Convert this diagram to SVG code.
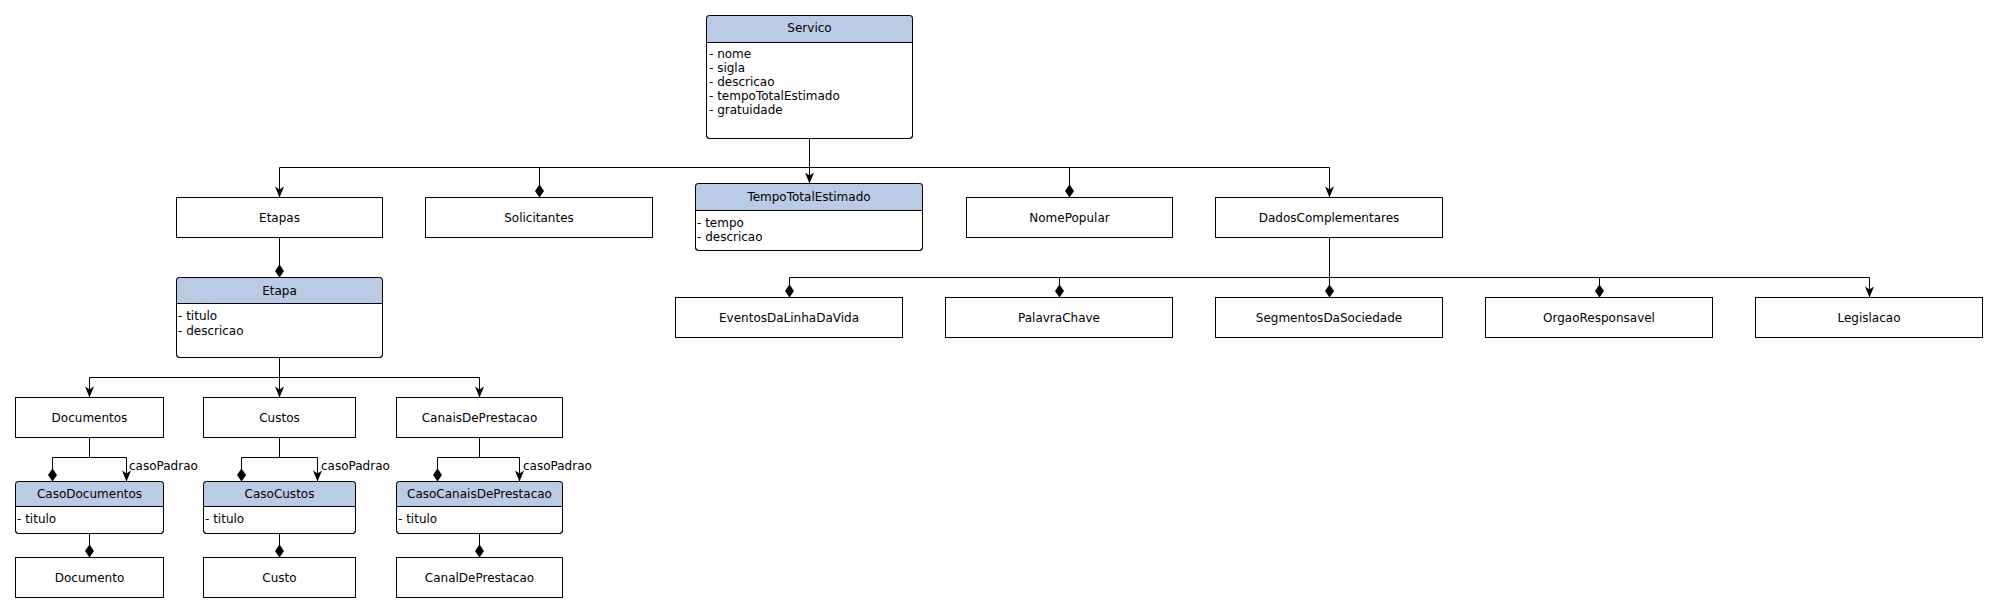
<svg xmlns="http://www.w3.org/2000/svg" width="1998" height="612" viewBox="0 0 1998 612">
<style>
.box{fill:#ffffff;stroke:#000000;stroke-width:1}
.hdr{fill:#b9cbe5;stroke:none}
.sep{stroke:#000000;stroke-width:1;fill:none}
.out{fill:none;stroke:#000000;stroke-width:1}
.t{font-family:"DejaVu Sans","Liberation Sans",sans-serif;font-size:12px;fill:#000000}
.c{text-anchor:middle}
.e{fill:none;stroke:#000000;stroke-width:1}
.a{marker-end:url(#arrow)}
.d{marker-end:url(#diamond)}
</style>
<defs>
<marker id="arrow" markerUnits="userSpaceOnUse" markerWidth="12" markerHeight="10" viewBox="-11 -5 12 10" refX="0" refY="0" orient="auto" overflow="visible">
<path d="M0,0 L-11,-4.5 L-8,0 L-11,4.5 Z" fill="#000000"/>
</marker>
<marker id="diamond" markerUnits="userSpaceOnUse" markerWidth="14" markerHeight="10" viewBox="-13 -5 14 10" refX="0" refY="0" orient="auto" overflow="visible">
<path d="M0,0 L-6.5,-4.5 L-13,0 L-6.5,4.5 Z" fill="#000000"/>
</marker>
</defs>
<rect width="1998" height="612" fill="#ffffff"/>

<g id="connectors">
<path class="e" d="M279.5,167.5 H1329.5"/>
<path class="e a" d="M809.5,138.5 V183.5"/>
<path class="e a" d="M279.5,167.5 V197.5"/>
<path class="e d" d="M539.5,167.5 V197.5"/>
<path class="e d" d="M1069.5,167.5 V197.5"/>
<path class="e a" d="M1329.5,167.5 V197.5"/>
<path class="e d" d="M279.5,237.5 V277.5"/>
<path class="e" d="M1329.5,237.5 V277.5"/>
<path class="e" d="M789.5,277.5 H1869.5"/>
<path class="e d" d="M789.5,277.5 V297.5"/>
<path class="e d" d="M1059.5,277.5 V297.5"/>
<path class="e d" d="M1329.5,277.5 V297.5"/>
<path class="e d" d="M1599.5,277.5 V297.5"/>
<path class="e a" d="M1869.5,277.5 V297.5"/>
<path class="e" d="M279.5,357.5 V377.5"/>
<path class="e" d="M89.5,377.5 H479.5"/>
<path class="e a" d="M89.5,377.5 V397.5"/>
<path class="e a" d="M279.5,377.5 V397.5"/>
<path class="e a" d="M479.5,377.5 V397.5"/>
<path class="e" d="M89.5,437.5 V457.5"/>
<path class="e" d="M52.5,457.5 H126.5"/>
<path class="e d" d="M52.5,457.5 V481.5"/>
<path class="e a" d="M126.5,457.5 V481.5"/>
<text class="t" x="129" y="470">casoPadrao</text>
<path class="e" d="M279.5,437.5 V457.5"/>
<path class="e" d="M241.5,457.5 H317.5"/>
<path class="e d" d="M241.5,457.5 V481.5"/>
<path class="e a" d="M317.5,457.5 V481.5"/>
<text class="t" x="321" y="470">casoPadrao</text>
<path class="e" d="M479.5,437.5 V457.5"/>
<path class="e" d="M437.5,457.5 H519.5"/>
<path class="e d" d="M437.5,457.5 V481.5"/>
<path class="e a" d="M519.5,457.5 V481.5"/>
<text class="t" x="523" y="470">casoPadrao</text>
<path class="e d" d="M89.5,533.5 V557.5"/>
<path class="e d" d="M279.5,533.5 V557.5"/>
<path class="e d" d="M479.5,533.5 V557.5"/>
</g>

<g id="Servico">
<rect class="box" x="706.5" y="15.5" width="206" height="123" rx="3"/>
<path class="hdr" d="M706.5,42.5 V18.5 Q706.5,15.5 709.5,15.5 H909.5 Q912.5,15.5 912.5,18.5 V42.5 Z"/>
<path class="sep" d="M706.5,42.5 H912.5"/>
<rect class="out" x="706.5" y="15.5" width="206" height="123" rx="3"/>
<text class="t c" x="809.5" y="32">Servico</text>
<text class="t" x="709" y="58">- nome</text>
<text class="t" x="709" y="72">- sigla</text>
<text class="t" x="709" y="86">- descricao</text>
<text class="t" x="709" y="100">- tempoTotalEstimado</text>
<text class="t" x="709" y="114">- gratuidade</text>
</g>

<g id="Etapas">
<rect class="box" x="176.5" y="197.5" width="206" height="40"/>
<text class="t c" x="279.5" y="221.5">Etapas</text>
</g>
<g id="Solicitantes">
<rect class="box" x="425.5" y="197.5" width="227" height="40"/>
<text class="t c" x="539" y="221.5">Solicitantes</text>
</g>
<g id="TempoTotalEstimado">
<rect class="box" x="695.5" y="183.5" width="227" height="67" rx="3"/>
<path class="hdr" d="M695.5,210.5 V186.5 Q695.5,183.5 698.5,183.5 H919.5 Q922.5,183.5 922.5,186.5 V210.5 Z"/>
<path class="sep" d="M695.5,210.5 H922.5"/>
<rect class="out" x="695.5" y="183.5" width="227" height="67" rx="3"/>
<text class="t c" x="809" y="201">TempoTotalEstimado</text>
<text class="t" x="697" y="227">- tempo</text>
<text class="t" x="697" y="241">- descricao</text>
</g>
<g id="NomePopular">
<rect class="box" x="966.5" y="197.5" width="206" height="40"/>
<text class="t c" x="1069.5" y="221.5">NomePopular</text>
</g>
<g id="DadosComplementares">
<rect class="box" x="1215.5" y="197.5" width="227" height="40"/>
<text class="t c" x="1329" y="221.5">DadosComplementares</text>
</g>

<g id="Etapa">
<rect class="box" x="176.5" y="277.5" width="206" height="80" rx="3"/>
<path class="hdr" d="M176.5,303.5 V280.5 Q176.5,277.5 179.5,277.5 H379.5 Q382.5,277.5 382.5,280.5 V303.5 Z"/>
<path class="sep" d="M176.5,303.5 H382.5"/>
<rect class="out" x="176.5" y="277.5" width="206" height="80" rx="3"/>
<text class="t c" x="279.5" y="294.5">Etapa</text>
<text class="t" x="178" y="320">- titulo</text>
<text class="t" x="178" y="335">- descricao</text>
</g>

<g id="EventosDaLinhaDaVida">
<rect class="box" x="675.5" y="297.5" width="227" height="40"/>
<text class="t c" x="789" y="321.5">EventosDaLinhaDaVida</text>
</g>
<g id="PalavraChave">
<rect class="box" x="945.5" y="297.5" width="227" height="40"/>
<text class="t c" x="1059" y="321.5">PalavraChave</text>
</g>
<g id="SegmentosDaSociedade">
<rect class="box" x="1215.5" y="297.5" width="227" height="40"/>
<text class="t c" x="1329" y="321.5">SegmentosDaSociedade</text>
</g>
<g id="OrgaoResponsavel">
<rect class="box" x="1485.5" y="297.5" width="227" height="40"/>
<text class="t c" x="1599" y="321.5">OrgaoResponsavel</text>
</g>
<g id="Legislacao">
<rect class="box" x="1755.5" y="297.5" width="227" height="40"/>
<text class="t c" x="1869" y="321.5">Legislacao</text>
</g>

<g id="Documentos">
<rect class="box" x="15.5" y="397.5" width="148" height="40"/>
<text class="t c" x="89.5" y="421.5">Documentos</text>
</g>
<g id="Custos">
<rect class="box" x="203.5" y="397.5" width="152" height="40"/>
<text class="t c" x="279.5" y="421.5">Custos</text>
</g>
<g id="CanaisDePrestacao">
<rect class="box" x="396.5" y="397.5" width="166" height="40"/>
<text class="t c" x="479.5" y="421.5">CanaisDePrestacao</text>
</g>

<g id="CasoDocumentos">
<rect class="box" x="15.5" y="481.5" width="148" height="52" rx="3"/>
<path class="hdr" d="M15.5,506.5 V484.5 Q15.5,481.5 18.5,481.5 H160.5 Q163.5,481.5 163.5,484.5 V506.5 Z"/>
<path class="sep" d="M15.5,506.5 H163.5"/>
<rect class="out" x="15.5" y="481.5" width="148" height="52" rx="3"/>
<text class="t c" x="89.5" y="498">CasoDocumentos</text>
<text class="t" x="17" y="523">- titulo</text>
</g>
<g id="CasoCustos">
<rect class="box" x="203.5" y="481.5" width="152" height="52" rx="3"/>
<path class="hdr" d="M203.5,506.5 V484.5 Q203.5,481.5 206.5,481.5 H352.5 Q355.5,481.5 355.5,484.5 V506.5 Z"/>
<path class="sep" d="M203.5,506.5 H355.5"/>
<rect class="out" x="203.5" y="481.5" width="152" height="52" rx="3"/>
<text class="t c" x="279.5" y="498">CasoCustos</text>
<text class="t" x="205" y="523">- titulo</text>
</g>
<g id="CasoCanaisDePrestacao">
<rect class="box" x="396.5" y="481.5" width="166" height="52" rx="3"/>
<path class="hdr" d="M396.5,506.5 V484.5 Q396.5,481.5 399.5,481.5 H559.5 Q562.5,481.5 562.5,484.5 V506.5 Z"/>
<path class="sep" d="M396.5,506.5 H562.5"/>
<rect class="out" x="396.5" y="481.5" width="166" height="52" rx="3"/>
<text class="t c" x="479.5" y="498">CasoCanaisDePrestacao</text>
<text class="t" x="398" y="523">- titulo</text>
</g>

<g id="Documento">
<rect class="box" x="15.5" y="557.5" width="148" height="40"/>
<text class="t c" x="89.5" y="581.5">Documento</text>
</g>
<g id="Custo">
<rect class="box" x="203.5" y="557.5" width="152" height="40"/>
<text class="t c" x="279.5" y="581.5">Custo</text>
</g>
<g id="CanalDePrestacao">
<rect class="box" x="396.5" y="557.5" width="166" height="40"/>
<text class="t c" x="479.5" y="581.5">CanalDePrestacao</text>
</g>
</svg>
